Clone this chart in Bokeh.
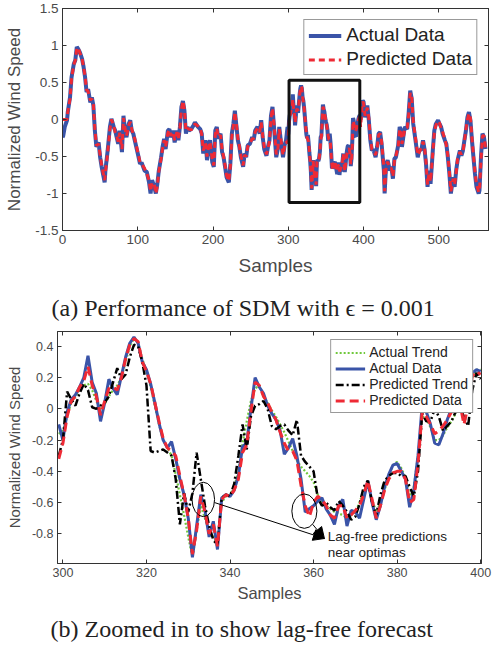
from bokeh.plotting import figure
from bokeh.models import (Range1d, LinearAxis, FixedTicker, Legend, LegendItem,
                          Arrow, NormalHead, Label, Title, CustomLabelingPolicy)
from bokeh.embed import file_html
from bokeh.resources import INLINE

# ---------------- data: zoomed window (samples 299..400) ----------------
zoom_samples = list(range(299, 401))
actual_data = [
    -0.10, -0.20, -0.02, 0.06, 0.09, 0.14, 0.20, 0.34, 0.17, 0.10,
    -0.08, 0.04, 0.19, 0.13, 0.09, 0.21, 0.33, 0.42, 0.46, 0.42,
    0.30, 0.25, 0.16, 0.04, -0.09, -0.20, -0.25, -0.21, -0.32, -0.45,
    -0.55, -0.70, -0.95, -0.75, -0.55, -0.65, -0.82, -0.72, -0.90, -0.57,
    -0.55, -0.56, -0.52, -0.43, -0.24, -0.22, 0.00, 0.20, 0.14, 0.10,
    0.02, -0.03, -0.07, -0.14, -0.29, -0.25, -0.19, -0.30, -0.45, -0.66,
    -0.64, -0.62, -0.59, -0.57, -0.64, -0.68, -0.74, -0.62, -0.58, -0.75,
    -0.65, -0.66, -0.70, -0.58, -0.46, -0.60, -0.71, -0.62, -0.50, -0.42,
    -0.36, -0.35, -0.40, -0.45, -0.63, -0.52, -0.30, 0.02, -0.02, -0.10,
    -0.22, -0.23, -0.16, -0.07, 0.00, 0.04, 0.06, 0.00, 0.05, 0.23,
    0.25, 0.24]
predicted_data = [
    -0.32, -0.22, -0.05, 0.05, 0.08, 0.14, 0.18, 0.27, 0.15, 0.08,
    -0.04, 0.05, 0.13, 0.14, 0.12, 0.20, 0.32, 0.41, 0.45, 0.43,
    0.30, 0.24, 0.16, 0.04, -0.08, -0.19, -0.25, -0.27, -0.30, -0.43,
    -0.55, -0.70, -0.93, -0.78, -0.56, -0.66, -0.80, -0.74, -0.88, -0.58,
    -0.55, -0.56, -0.52, -0.45, -0.28, -0.23, -0.02, 0.17, 0.15, 0.08,
    0.04, -0.02, -0.07, -0.15, -0.22, -0.27, -0.27, -0.33, -0.49, -0.62,
    -0.69, -0.60, -0.56, -0.58, -0.62, -0.68, -0.70, -0.62, -0.62, -0.70,
    -0.68, -0.65, -0.62, -0.55, -0.46, -0.58, -0.70, -0.62, -0.52, -0.45,
    -0.41, -0.40, -0.40, -0.45, -0.60, -0.58, -0.35, -0.02, -0.05, -0.10,
    -0.16, -0.14, -0.11, -0.07, -0.02, 0.02, 0.04, -0.10, 0.02, 0.21,
    0.24, 0.22]
actual_trend = [
    -0.16, -0.14, -0.05, 0.04, 0.08, 0.12, 0.15, 0.16, 0.12, 0.05,
    0.00, 0.03, 0.08, 0.12, 0.15, 0.20, 0.30, 0.40, 0.45, 0.42,
    0.32, 0.24, 0.14, 0.02, -0.10, -0.20, -0.25, -0.30, -0.42, -0.55,
    -0.68, -0.82, -0.95, -0.78, -0.62, -0.70, -0.78, -0.82, -0.86, -0.60,
    -0.56, -0.55, -0.50, -0.40, -0.22, -0.08, 0.05, 0.13, 0.15, 0.08,
    0.04, -0.01, -0.05, -0.10, -0.15, -0.21, -0.27, -0.33, -0.37, -0.40,
    -0.43, -0.47, -0.55, -0.60, -0.62, -0.64, -0.66, -0.67, -0.68, -0.70,
    -0.68, -0.66, -0.60, -0.52, -0.48, -0.58, -0.66, -0.60, -0.52, -0.43,
    -0.36, -0.34, -0.38, -0.44, -0.56, -0.50, -0.30, -0.05, -0.06, -0.12,
    -0.20, -0.20, -0.17, -0.12, -0.08, -0.03, 0.02, 0.05, 0.10, 0.20,
    0.25, 0.25]
predicted_trend = [
    -0.30, -0.20, 0.11, 0.06, 0.02, 0.10, 0.16, 0.12, 0.01, 0.00,
    0.02, 0.04, 0.08, 0.17, 0.26, 0.19, 0.22, 0.33, 0.41, 0.40,
    0.30, 0.15, -0.27, -0.28, -0.27, -0.26, -0.28, -0.30, -0.45, -0.74,
    -0.54, -0.66, -0.54, -0.28, -0.45, -0.62, -0.75, -0.84, -0.87, -0.57,
    -0.55, -0.56, -0.48, -0.30, -0.10, -0.26, -0.05, 0.02, 0.03, 0.05,
    0.00, -0.11, -0.13, -0.11, -0.10, -0.14, -0.17, -0.07, -0.30, -0.34,
    -0.37, -0.40, -0.57, -0.62, -0.60, -0.63, -0.65, -0.59, -0.62, -0.66,
    -0.71, -0.69, -0.61, -0.50, -0.46, -0.60, -0.68, -0.55, -0.46, -0.43,
    -0.41, -0.41, -0.43, -0.43, -0.50, -0.56, -0.40, -0.03, -0.08, -0.08,
    0.00, -0.05, -0.14, -0.11, -0.08, -0.02, 0.01, -0.05, -0.11, 0.12,
    0.23, 0.19]

# ---------------- data: full series outside the zoomed window ----------------
full_x_before = [
    0, 1, 3, 6, 7, 10, 12, 15, 17, 19,
    21, 23, 26, 28, 30, 32, 34, 37, 39, 41,
    43, 45, 48, 50, 52, 56, 57, 60, 63, 65,
    68, 70, 72, 74, 76, 79, 81, 83, 85, 88,
    90, 92, 94, 96, 100, 103, 105, 109, 112, 115,
    117, 119, 122, 124, 126, 128, 131, 133, 135, 137,
    140, 142, 144, 147, 149, 152, 154, 156, 158, 160,
    162, 164, 166, 168, 171, 174, 176, 180, 183, 185,
    187, 190, 192, 194, 196, 199, 201, 203, 205, 207,
    210, 212, 214, 216, 218, 221, 223, 225, 227, 229,
    231, 233, 235, 237, 240, 242, 244, 246, 249, 252,
    254, 256, 259, 262, 264, 266, 268, 271, 273, 275,
    277, 279, 281, 284, 286, 288, 290, 293, 295, 297]
full_actual_before = [
    -0.24, -0.22, -0.10, -0.01, 0.10, 0.30, 0.57, 0.75, 0.80, 0.98,
    0.95, 0.91, 0.82, 0.71, 0.57, 0.37, 0.41, 0.23, 0.30, 0.19,
    -0.15, -0.37, -0.31, -0.51, -0.64, -0.85, -0.69, -0.42, -0.10, 0.01,
    -0.10, -0.15, -0.24, -0.33, -0.15, -0.44, 0.05, -0.15, -0.24, -0.06,
    -0.01, -0.15, -0.19, -0.28, -0.46, -0.60, -0.58, -0.69, -0.71, -0.85,
    -1.00, -0.82, -0.91, -1.00, -0.87, -0.69, -0.51, -0.37, -0.26, -0.40,
    -0.15, -0.13, -0.24, -0.15, -0.31, -0.15, -0.28, -0.10, 0.17, 0.25,
    0.12, -0.19, -0.10, -0.15, -0.13, -0.08, -0.04, -0.10, -0.13, -0.19,
    -0.46, -0.28, -0.55, -0.35, -0.28, -0.58, -0.64, -0.15, -0.10, -0.26,
    -0.19, -0.44, -0.51, -0.64, -0.78, -0.85, -0.60, -0.19, -0.06, 0.12,
    -0.08, -0.28, -0.37, -0.51, -0.64, -0.46, -0.51, -0.35, -0.33, -0.24,
    -0.28, -0.15, -0.10, -0.19, -0.01, -0.24, -0.40, -0.49, -0.37, -0.28,
    0.05, 0.17, -0.10, -0.51, -0.40, -0.10, -0.28, -0.51, -0.35, -0.28]
full_pred_before = [
    0.00, 0.00, 0.00, 0.00, 0.10, 0.28, 0.55, 0.74, 0.80, 0.96,
    0.97, 0.90, 0.82, 0.71, 0.58, 0.40, 0.38, 0.26, 0.28, 0.20,
    -0.12, -0.35, -0.33, -0.48, -0.62, -0.82, -0.72, -0.45, -0.13, 0.00,
    -0.08, -0.17, -0.22, -0.30, -0.18, -0.40, 0.02, -0.12, -0.22, -0.08,
    -0.03, -0.13, -0.20, -0.26, -0.44, -0.58, -0.60, -0.66, -0.73, -0.82,
    -0.97, -0.85, -0.88, -1.00, -0.90, -0.70, -0.53, -0.39, -0.28, -0.37,
    -0.18, -0.14, -0.22, -0.17, -0.28, -0.17, -0.25, -0.12, 0.14, 0.25,
    0.14, -0.15, -0.12, -0.13, -0.14, -0.09, -0.06, -0.09, -0.12, -0.20,
    -0.42, -0.31, -0.50, -0.38, -0.30, -0.55, -0.62, -0.20, -0.12, -0.24,
    -0.21, -0.40, -0.50, -0.62, -0.76, -0.83, -0.63, -0.23, -0.08, 0.10,
    -0.05, -0.25, -0.36, -0.49, -0.62, -0.48, -0.50, -0.37, -0.32, -0.26,
    -0.26, -0.17, -0.12, -0.17, -0.04, -0.22, -0.37, -0.47, -0.39, -0.30,
    0.02, 0.15, -0.06, -0.47, -0.42, -0.13, -0.26, -0.48, -0.37, -0.30]
full_x_after = [
    402, 405, 407, 409, 411, 413, 416, 418, 420, 422,
    424, 427, 428, 430, 432, 435, 437, 439, 441, 443,
    446, 448, 450, 451, 454, 455, 458, 460, 462, 464,
    466, 469, 472, 474, 477, 479, 481, 483, 485, 487,
    489, 492, 494, 496, 499, 501, 503, 505, 508, 510,
    512, 514, 516, 519, 521, 523, 525, 528, 530, 532,
    534, 536, 538, 540, 542, 544, 546, 548, 550, 553,
    554, 556, 558, 560, 562]
full_actual_after = [
    0.03, 0.19, -0.01, -0.28, -0.42, -0.40, -0.51, -0.37, -0.19, -0.17,
    -0.33, -0.69, -1.00, -0.60, -0.55, -0.69, -0.64, -0.80, -0.53, -0.51,
    -0.35, -0.10, -0.15, -0.37, -0.15, -0.10, -0.13, 0.10, 0.39, 0.28,
    -0.06, -0.28, -0.51, -0.42, -0.40, -0.28, -0.40, -0.60, -0.91, -0.69,
    -0.87, -0.42, -0.15, -0.06, -0.01, -0.06, -0.10, -0.19, -0.28, -0.33,
    -0.51, -0.73, -1.00, -0.78, -0.91, -0.69, -0.55, -0.42, -0.49, -0.42,
    -0.28, -0.15, 0.03, 0.10, -0.01, -0.28, -0.51, -0.73, -0.91, -1.00,
    -0.96, -0.51, -0.19, -0.24, -0.40]
full_pred_after = [
    0.05, 0.16, 0.02, -0.25, -0.40, -0.42, -0.48, -0.39, -0.21, -0.19,
    -0.30, -0.66, -0.97, -0.63, -0.57, -0.66, -0.66, -0.77, -0.56, -0.49,
    -0.37, -0.13, -0.17, -0.33, -0.18, -0.12, -0.11, 0.07, 0.36, 0.30,
    -0.03, -0.25, -0.48, -0.44, -0.38, -0.30, -0.38, -0.57, -0.88, -0.72,
    -0.84, -0.45, -0.18, -0.08, -0.02, -0.05, -0.12, -0.17, -0.26, -0.35,
    -0.49, -0.70, -0.97, -0.80, -0.88, -0.72, -0.53, -0.44, -0.47, -0.44,
    -0.30, -0.13, 0.00, 0.08, 0.02, -0.25, -0.48, -0.70, -0.88, -0.98,
    -0.97, -0.55, -0.22, -0.22, -0.38]

top_xticks = [0, 100, 200, 300, 400, 500]
top_yticks = [-1.5, -1, -0.5, 0, 0.5, 1, 1.5]
top_ylabels = ["-1.5", "-1", "-0.5", "0", "0.5", "1", "1.5"]
bot_xticks = [300, 320, 340, 360, 380, 400]
bot_yticks = [-0.8, -0.6, -0.4, -0.2, 0, 0.2, 0.4]
bot_ylabels = ["-0.8", "-0.6", "-0.4", "-0.2", "0", "0.2", "0.4"]

# annotation geometry
ZOOM_BOX = dict(left=301, right=395, bottom=-1.12, top=0.53)
ELL_X = [333.6, 357.8]
ELL_Y = [-0.58, -0.655]
ELL_W = [5.4, 6.0]
ELL_H = [0.22, 0.22]

SANS = "Liberation Sans"
SERIF = "Liberation Serif"
AXC = "#333333"
TXC = "#4a4a4a"
BLUE = "#3a54a8"
RED = "#ee2a35"
GREEN = "#70c83c"

NO_LABELS = CustomLabelingPolicy(code="for (const i of indices) { indices.unset(i) } return indices")


def style(p, xticks, yticks, ylabels, tick_fs, xlabel_fs, ylabel_fs, xlabel, ylabel,
          xlab_standoff, ylab_standoff):
    lab = dict(zip(yticks, ylabels))
    for ax in p.xaxis:
        ax.ticker = FixedTicker(ticks=xticks)
        ax.axis_label_text_font_size = xlabel_fs
        ax.axis_label_standoff = xlab_standoff
    for ax in p.yaxis:
        ax.ticker = FixedTicker(ticks=yticks)
        ax.major_label_overrides = {float(k): v for k, v in lab.items()}
        ax.axis_label_text_font_size = ylabel_fs
        ax.axis_label_standoff = ylab_standoff
    for ax in p.xaxis + p.yaxis:
        ax.major_tick_in = 4
        ax.major_tick_out = 0
        ax.minor_tick_line_color = None
        ax.axis_line_color = AXC
        ax.major_tick_line_color = AXC
        ax.major_label_text_font = SANS
        ax.major_label_text_font_size = tick_fs
        ax.major_label_text_color = TXC
        ax.major_label_standoff = 4
        ax.axis_label_text_font = SANS
        ax.axis_label_text_font_style = "normal"
        ax.axis_label_text_color = TXC
    p.xaxis.axis_label = xlabel
    p.yaxis.axis_label = ylabel
    p.xgrid.grid_line_color = None
    p.ygrid.grid_line_color = None
    p.outline_line_color = AXC
    for loc, t in (("right", yticks), ("above", xticks)):
        a = LinearAxis(ticker=FixedTicker(ticks=t), major_label_text_font_size="1px",
                       major_label_policy=NO_LABELS, axis_label_standoff=0,
                       major_label_standoff=0, major_tick_in=4, major_tick_out=0,
                       minor_tick_line_color=None, axis_line_color=AXC,
                       major_tick_line_color=AXC)
        p.add_layout(a, loc)


# ---------------- top figure ----------------
full_x = full_x_before + zoom_samples + full_x_after
full_actual = full_actual_before + actual_data + full_actual_after
full_pred = full_pred_before + predicted_data + full_pred_after

p1 = figure(width=493, height=285, output_backend="svg", toolbar_location=None,
            x_range=Range1d(0, 566), y_range=Range1d(-1.5, 1.5),
            min_border_left=62, min_border_right=4, min_border_top=8, min_border_bottom=55)
r_a = p1.line(full_x, full_actual, line_color=BLUE, line_width=4)
r_p = p1.line(full_x, full_pred, line_color=RED, line_width=3, line_dash="6 4")
p1.quad(left=[ZOOM_BOX["left"]], right=[ZOOM_BOX["right"]], bottom=[ZOOM_BOX["bottom"]],
        top=[ZOOM_BOX["top"]], fill_color=None, line_color="#111111", line_width=3)
style(p1, top_xticks, top_yticks, top_ylabels, "13.5px", "19px", "17px",
      "Samples", "Normalized Wind Speed", 8, 8)
leg1 = Legend(items=[LegendItem(label="Actual Data", renderers=[r_a]),
                     LegendItem(label="Predicted Data", renderers=[r_p])],
              location="top_right", margin=11, padding=4, spacing=2,
              glyph_width=33, glyph_height=19, label_height=19, label_standoff=5,
              label_text_font=SANS, label_text_font_size="19px", label_text_color="#222222",
              border_line_color=AXC, border_line_width=1, background_fill_alpha=1)
p1.add_layout(leg1)

# ---------------- bottom figure (also carries caption (a) above it) ----------------
p2 = figure(width=493, height=365, output_backend="svg", toolbar_location=None,
            x_range=Range1d(298.7, 400.2), y_range=Range1d(-0.99, 0.495),
            min_border_left=57, min_border_right=12, min_border_top=0, min_border_bottom=0)
r_g = p2.line(zoom_samples, actual_trend, line_color=GREEN, line_width=2.2, line_dash="2 2")
r_b = p2.line(zoom_samples, actual_data, line_color=BLUE, line_width=3)
r_k = p2.line(zoom_samples, predicted_trend, line_color="black", line_width=2.5, line_dash="8 3 2 3")
r_r = p2.line(zoom_samples, predicted_data, line_color=RED, line_width=3, line_dash="9 5")
p2.ellipse(x=ELL_X, y=ELL_Y, width=ELL_W, height=ELL_H, fill_color=None,
           line_color="black", line_width=1)
p2.add_layout(Arrow(end=NormalHead(size=11, fill_color="black", line_color="black"),
                    x_start=336.3, y_start=-0.60, x_end=362.6, y_end=-0.83,
                    line_color="black", line_width=1))
p2.add_layout(Arrow(end=NormalHead(size=11, fill_color="black", line_color="black"),
                    x_start=359.8, y_start=-0.74, x_end=362.6, y_end=-0.83,
                    line_color="black", line_width=1))
for txt, yy in (("Lag-free predictions", -0.82), ("near optimas", -0.92)):
    p2.add_layout(Label(x=363.4, y=yy, text=txt, text_font=SANS, text_font_size="13.5px",
                        text_color="#222222", text_baseline="middle", text_align="left"))
style(p2, bot_xticks, bot_yticks, bot_ylabels, "12.5px", "16.5px", "15px",
      "Samples", "Normalized Wind Speed", 4, 6)
leg2 = Legend(items=[LegendItem(label="Actual Trend", renderers=[r_g]),
                     LegendItem(label="Actual Data", renderers=[r_b]),
                     LegendItem(label="Predicted Trend", renderers=[r_k]),
                     LegendItem(label="Predicted Data", renderers=[r_r])],
              location="top_right", margin=8, padding=4, spacing=0,
              glyph_width=30, glyph_height=15, label_height=15, label_standoff=4,
              label_text_font=SANS, label_text_font_size="14px", label_text_color="#222222",
              border_line_color=AXC, border_line_width=1, background_fill_alpha=1)
p2.add_layout(leg2)
p2.add_layout(Title(text="(a) Performance of SDM with \u03f5 = 0.001", align="left",
                    offset=-6, text_font=SERIF, text_font_size="24px", text_font_style="normal",
                    text_color="#222222", standoff=14), "above")
p2.add_layout(Title(text="(b) Zoomed in to show lag-free forecast", align="left",
                    offset=-7, text_font=SERIF, text_font_size="24px", text_font_style="normal",
                    text_color="#222222", standoff=18), "below")

open("out.html", "w").write(file_html([p1, p2], INLINE))
